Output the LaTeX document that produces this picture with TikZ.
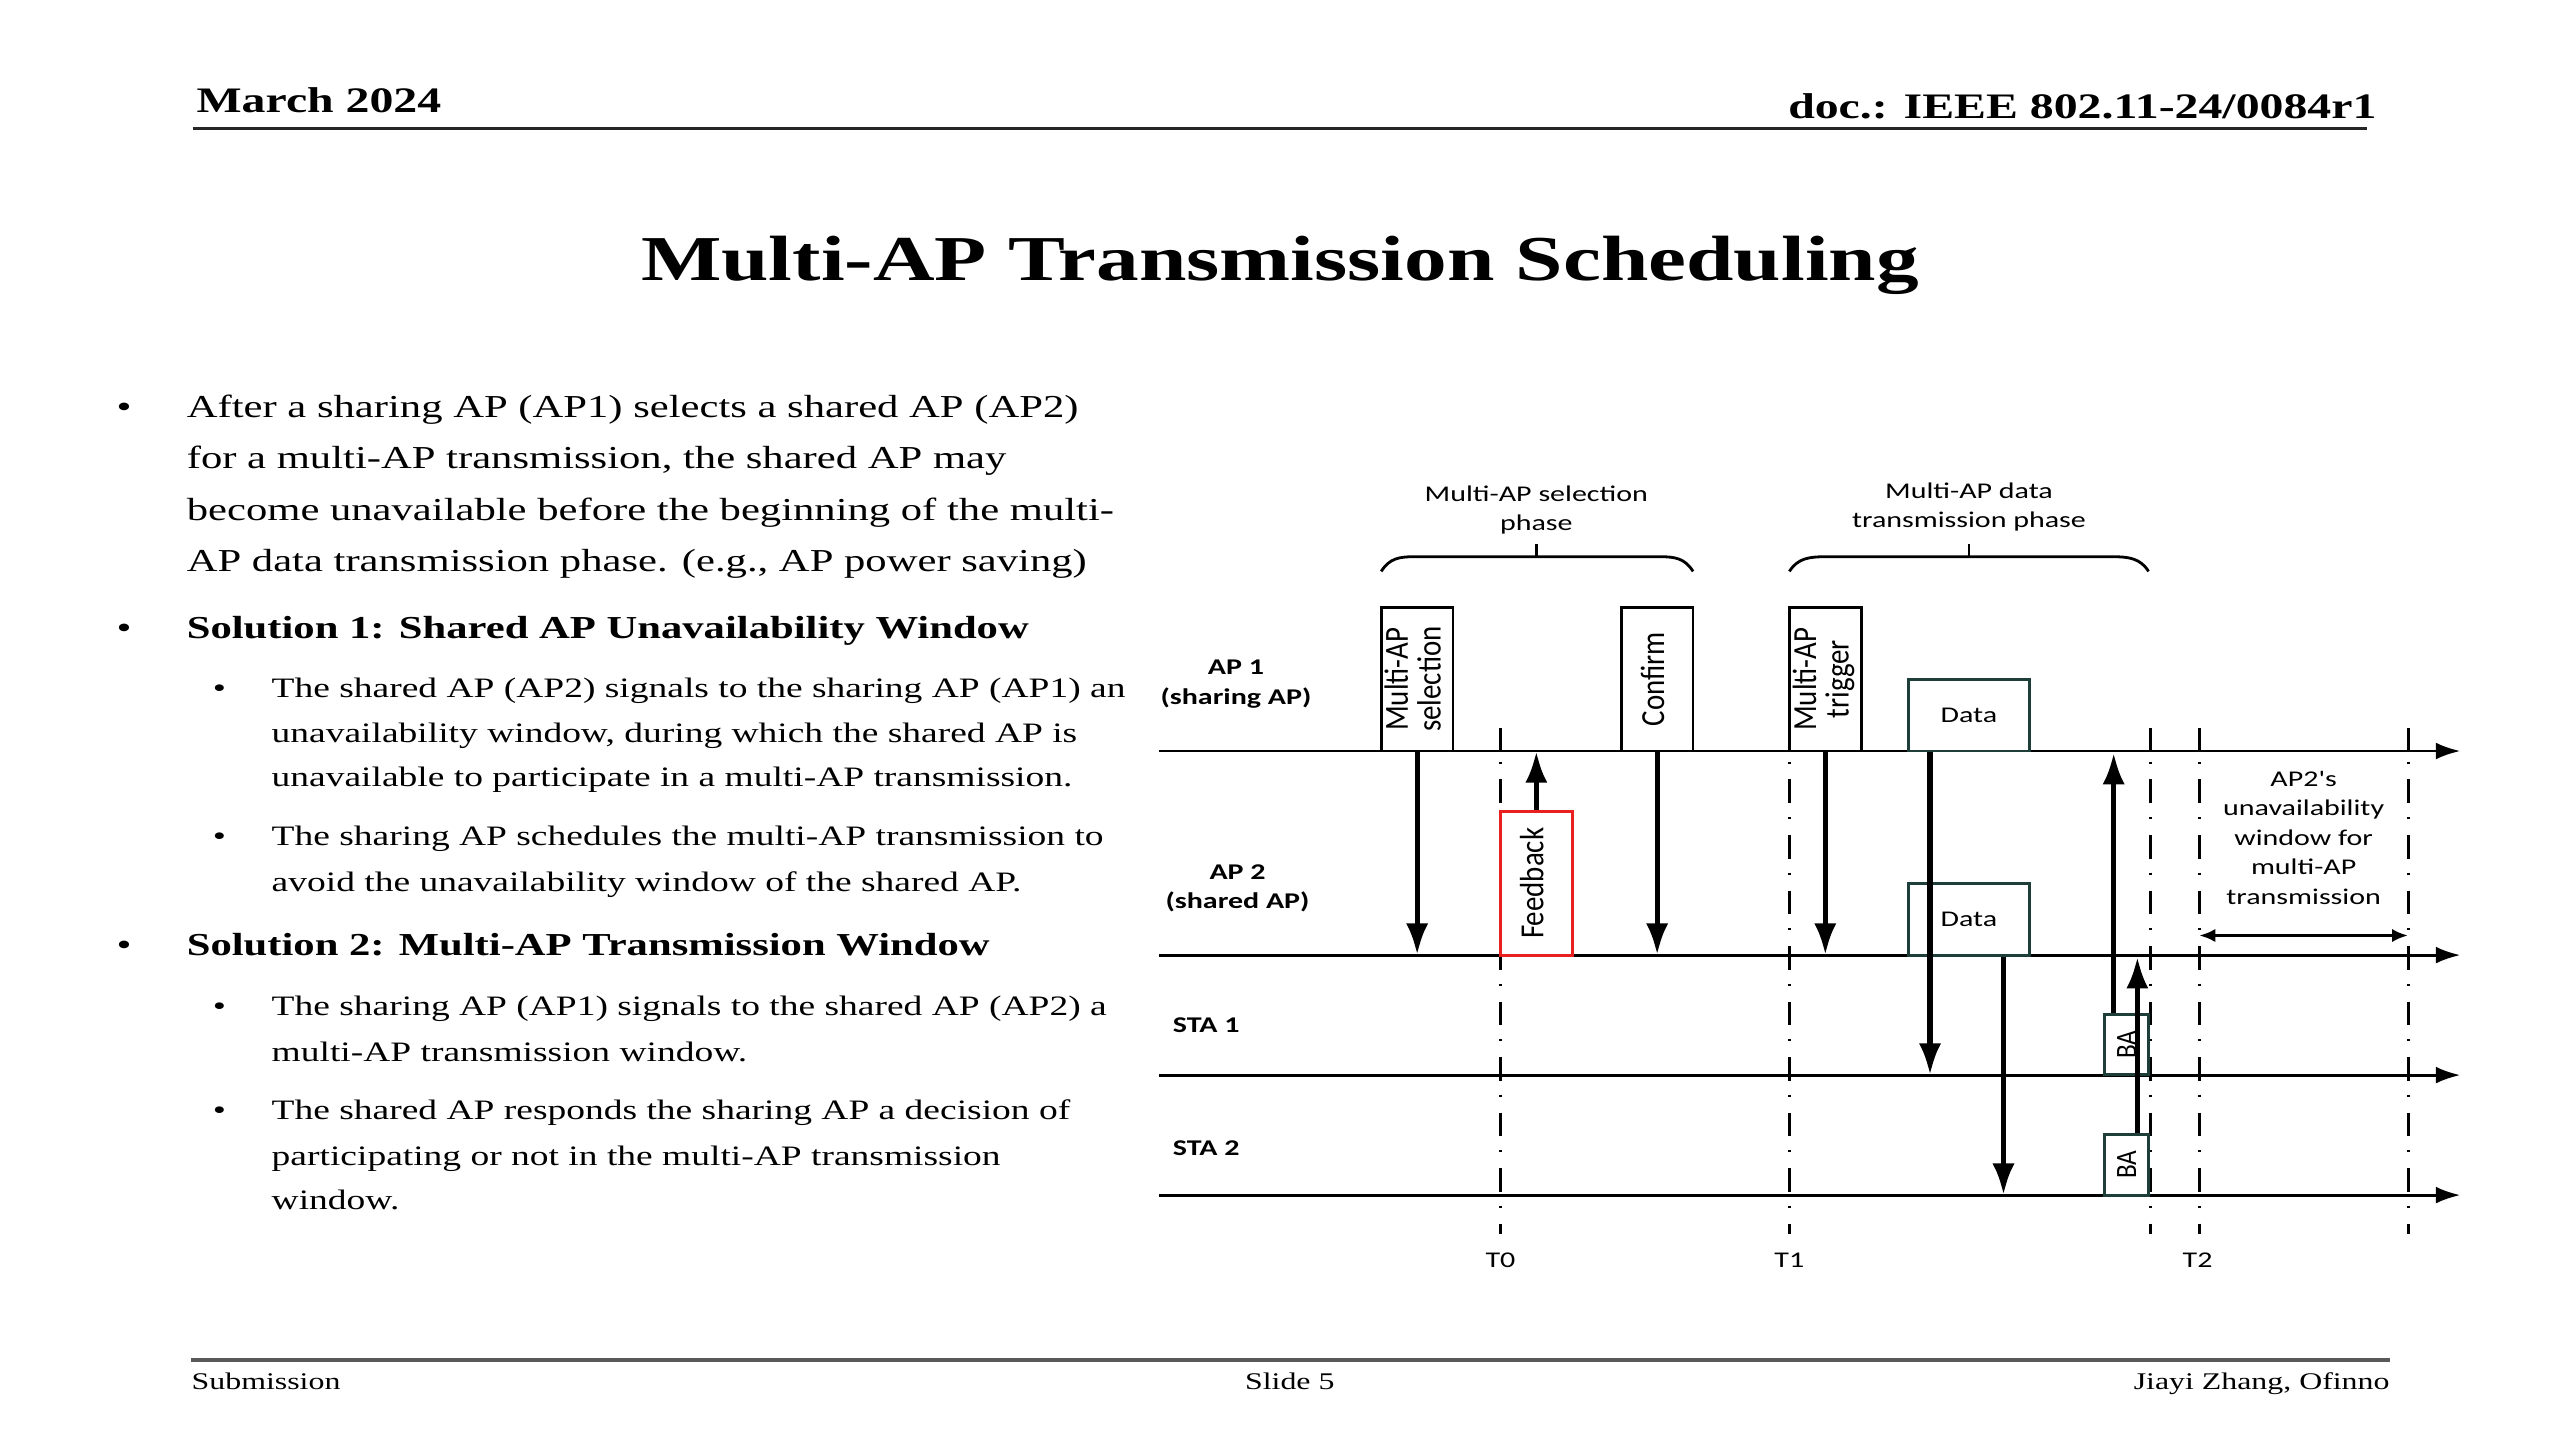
\documentclass[tikz,border=0pt]{standalone}
\usepackage{fontspec}
\usepackage{graphicx}
\setmainfont{Liberation Serif}[FakeStretch=1.3333]
\newfontfamily\dgmfont{Carlito}[FakeStretch=1.3333]
\newfontfamily\dgmrotfont{Carlito}[FakeStretch=0.857]
\usetikzlibrary{arrows.meta,calc}
\definecolor{boxteal}{RGB}{30,62,58}
\definecolor{fbred}{RGB}{232,32,32}
\newcommand{\pxu}{0.016327cm}
\newcommand{\dgmsize}{\dgmfont\fontsize{6.4}{8.4}\selectfont}
\newcommand{\rotlbl}[1]{\rotatebox{90}{\dgmrotfont\fontsize{9.6}{8.9}\selectfont\begin{tabular}{@{}c@{}}#1\end{tabular}}}
\newcommand{\rotsmall}[1]{\rotatebox{90}{\dgmrotfont\fontsize{8.4}{8.9}\selectfont #1}}
\begin{document}
\begin{tikzpicture}[x=\pxu, y=-\pxu,
  hdr/.style={inner sep=0, font=\bfseries\fontsize{10.2}{12}\selectfont},
  ttl/.style={inner sep=0, anchor=base, font=\bfseries\fontsize{18.2}{22}\selectfont},
  ftr/.style={inner sep=0, font=\fontsize{6.8}{8}\selectfont},
  bodyl/.style={inner sep=0, anchor=base west, font=\fontsize{9.1}{11}\selectfont},
  subl/.style={inner sep=0, anchor=base west, font=\fontsize{8}{10}\selectfont},
  axis/.style={line width=0.8pt, -{Latex[length=7pt,width=4.8pt]}},
  msg/.style={line width=1.5pt, -{Latex[length=9pt,width=6.3pt]}},
  msgbox/.style={draw, line width=0.8pt, inner sep=0, minimum width=44*\pxu, minimum height=88*\pxu},
  databox/.style={draw=boxteal, line width=0.8pt, inner sep=0, minimum width=74*\pxu, minimum height=44*\pxu, font=\dgmsize},
  babox/.style={draw=boxteal, line width=0.8pt, inner sep=0, minimum width=27*\pxu, minimum height=37*\pxu},
  fbbox/.style={draw=fbred, line width=0.9pt, inner sep=0, minimum width=44*\pxu, minimum height=88*\pxu},
  tline/.style={line width=0.9pt, dash pattern=on 0.6pt off 4.5pt on 6.7pt off 4pt, dash phase=-3pt},
  tick/.style={line width=0.9pt},
  lbl/.style={inner sep=0, font=\dgmsize, align=center},
  lblb/.style={inner sep=0, font=\dgmsize\bfseries, align=center},
  brace/.style={line width=0.8pt},
  wnd/.style={line width=1pt, {Latex[length=4.6pt,width=3.8pt]}-{Latex[length=4.6pt,width=3.8pt]}}
]
\useasboundingbox (0,0) rectangle (1568,882);

% header
\node[hdr, anchor=base west] (date) at (120,69) {March 2024};
\node[hdr, anchor=base east] (doc) at (1456,72.5) {doc.: IEEE 802.11-24/0084r1};
\draw[line width=0.8pt, black!85] (118,78.5) -- (1450,78.5);

% title
\node[ttl] (title) at (784,172) {Multi-AP Transmission Scheduling};

% footer
\draw[line width=1.1pt, black!65] (117,833) -- (1464,833);
\node[ftr, anchor=base west] (sub) at (117,851) {Submission};
\node[ftr, anchor=base] (slide) at (790,851) {Slide 5};
\node[ftr, anchor=base east] (auth) at (1464,851) {Jiayi Zhang, Ofinno};

% body text
\node[bodyl] (b1) at (71,256) {•};
\node[bodyl] (t1a) at (114,256) {After a sharing AP (AP1) selects a shared AP (AP2)};
\node[bodyl] (t1b) at (114,287) {for a multi-AP transmission, the shared AP may};
\node[bodyl] (t1c) at (114,319) {become unavailable before the beginning of the multi-};
\node[bodyl] (t1d) at (114,350) {AP data transmission phase. (e.g., AP power saving)};
\node[bodyl] (b2) at (71,391) {•};
\node[bodyl, font=\bfseries\fontsize{9.1}{11}\selectfont] (t2) at (114,391) {Solution 1: Shared AP Unavailability Window};
\node[subl] (b21) at (130,427) {•};
\node[subl] (t21a) at (166,427) {The shared AP (AP2) signals to the sharing AP (AP1) an};
\node[subl] (t21b) at (166,455) {unavailability window, during which the shared AP is};
\node[subl] (t21c) at (166,482) {unavailable to participate in a multi-AP transmission.};
\node[subl] (b22) at (130,518) {•};
\node[subl] (t22a) at (166,518) {The sharing AP schedules the multi-AP transmission to};
\node[subl] (t22b) at (166,546) {avoid the unavailability window of the shared AP.};
\node[bodyl] (b3) at (71,585) {•};
\node[bodyl, font=\bfseries\fontsize{9.1}{11}\selectfont] (t3) at (114,585) {Solution 2: Multi-AP Transmission Window};
\node[subl] (b31) at (130,622) {•};
\node[subl] (t31a) at (166,622) {The sharing AP (AP1) signals to the shared AP (AP2) a};
\node[subl] (t31b) at (166,650) {multi-AP transmission window.};
\node[subl] (b32) at (130,686) {•};
\node[subl] (t32a) at (166,686) {The shared AP responds the sharing AP a decision of};
\node[subl] (t32b) at (166,714) {participating or not in the multi-AP transmission};
\node[subl] (t32c) at (166,741) {window.};

% ---------------- diagram ----------------
\coordinate (ap1s) at (710,460); \coordinate (ap1e) at (1507,460);
\coordinate (ap2s) at (710,585); \coordinate (ap2e) at (1507,585);
\coordinate (sta1s) at (710,658.5); \coordinate (sta1e) at (1507,658.5);
\coordinate (sta2s) at (710,732); \coordinate (sta2e) at (1507,732);

% time lines
\foreach \xx in {919,1317,1347,1475} {
  \draw[tick] (\xx,446) -- (\xx,460);
}
\foreach \xx in {919,1096,1317,1347,1475} {
  \draw[tline] (\xx,460) -- (\xx,756);
}

\draw[axis] (ap1s) -- (ap1e);
\draw[axis] (ap2s) -- (ap2e);
\draw[axis] (sta1s) -- (sta1e);
\draw[axis] (sta2s) -- (sta2e);

% row labels
\node[lblb] (lap1) at (757,419) {AP 1\\(sharing AP)};
\node[lblb] (lap2) at (758,544) {AP 2\\(shared AP)};
\node[lblb, anchor=west] (lsta1) at (718,628) {STA 1};
\node[lblb, anchor=west] (lsta2) at (718,703) {STA 2};

% boxes
\node[msgbox] (msel) at (868,416) {\rotlbl{Multi-AP\\selection}};
\node[msgbox] (conf) at (1015,416) {\rotlbl{Confirm}};
\node[msgbox] (trig) at (1118,416) {\rotlbl{Multi-AP\\trigger}};
\node[databox] (data1) at (1206,438) {Data};
\node[databox] (data2) at (1206,563) {Data};
\node[fbbox] (fb) at (941,541) {\rotlbl{Feedback}};
\node[babox] (ba1) at (1302.5,639.8) {\rotsmall{BA}};
\node[babox] (ba2) at (1302.5,713.5) {\rotsmall{BA}};

% message arrows
\draw[msg] (msel.south) -- (msel.south |- ap2s);
\draw[msg] (fb.north) -- (fb.north |- ap1s);
\draw[msg] (conf.south) -- (conf.south |- ap2s);
\draw[msg] (trig.south) -- (trig.south |- ap2s);
\coordinate (d1out) at ($(data1.south west)+(14,0)$);
\draw[msg] (d1out) -- (d1out |- sta1s);
\coordinate (d2out) at ($(data2.south west)+(59,0)$);
\draw[msg] (d2out) -- (d2out |- sta2s);
\coordinate (ba1out) at ($(ba1.north west)+(6.5,0)$);
\draw[msg] (ba1out) -- ($(ba1out |- ap1s)+(0,1)$);
\coordinate (ba2out) at ($(ba2.north west)+(21,0)$);
\draw[msg] (ba2out) -- ($(ba2out |- ap2s)+(0,1)$);

% unavailability window
\coordinate (w1) at (1347,573);
\coordinate (w2) at (1475,573);
\draw[wnd] (w1) -- (w2);
\node[lbl] (unav) at (1411,513) {AP2's\\unavailability\\window for\\multi-AP\\transmission};

% braces
\draw[brace] (846,350) .. controls (851,342) and (857,341) .. (866,341) -- (1017,341) .. controls (1026,341) and (1032,342) .. (1037,350);
\draw[brace] (941,341) -- (941,333);
\draw[brace] (1096,350) .. controls (1101,342) and (1108,341) .. (1118,341) -- (1294,341) .. controls (1304,341) and (1311,342) .. (1316,350);
\draw[brace] (1206,341) -- (1206,333);
\node[lbl] (ph1) at (941,312.5) {Multi-AP selection\\phase};
\node[lbl] (ph2) at (1206,310.5) {Multi-AP data\\transmission phase};

% time labels
\node[lbl] (T0) at (919,772) {T0};
\node[lbl] (T1) at (1096,772) {T1};
\node[lbl] (T2) at (1346,772) {T2};
\end{tikzpicture}
\end{document}
